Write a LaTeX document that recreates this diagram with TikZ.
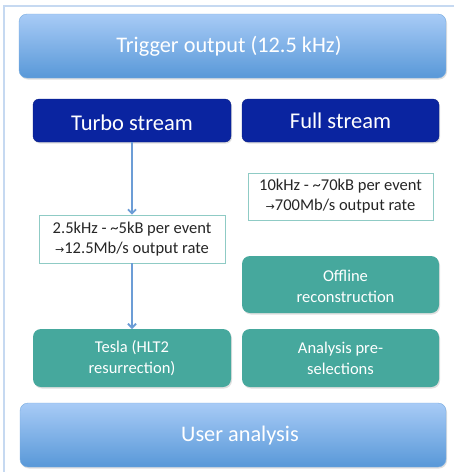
\documentclass[tikz,border=0pt]{standalone}
\usepackage{fontspec}
\setmainfont{Carlito}
\newfontfamily\symf{DejaVu Sans}
\usetikzlibrary{shadows,arrows.meta}
\definecolor{frameblue}{HTML}{C6D9F1}
\definecolor{bluetop}{HTML}{A8CBF6}
\definecolor{bluebot}{HTML}{5898D8}
\definecolor{darkblue}{HTML}{0A24A0}
\definecolor{teal}{HTML}{46A89D}
\definecolor{tealline}{HTML}{8FCBC5}
\definecolor{arrowblue}{HTML}{6C9DD6}
\tikzset{
  bigbar/.style={rounded corners=8pt, top color=bluetop, bottom color=bluebot, draw=bluebot!80!white, line width=0.4pt,
     drop shadow={opacity=0.25, shadow xshift=1pt, shadow yshift=-1.5pt}},
  darkbox/.style={rounded corners=6pt, fill=darkblue, draw=darkblue!80!black, line width=0.3pt,
     drop shadow={opacity=0.25, shadow xshift=1pt, shadow yshift=-1.5pt}},
  tealbox/.style={rounded corners=8pt, fill=teal, draw=none,
     drop shadow={opacity=0.25, shadow xshift=1pt, shadow yshift=-1.5pt}},
  infobox/.style={draw=tealline, fill=white, line width=0.8pt},
  bigtext/.style={text=white, font=\fontsize{22.3}{26}\selectfont},
  midtext/.style={text=white, font=\fontsize{22.5}{26}\selectfont},
  smalltext/.style={text=black!85, font=\fontsize{16.5}{20}\selectfont, align=center},
  tealtext/.style={text=white, font=\fontsize{16.5}{21}\selectfont, align=center},
  flow/.style={draw=arrowblue, line width=1.8pt, -{Straight Barb[length=4pt,width=8pt]}}
}
\newcommand{\smallarrow}{{\symf\fontsize{11}{12}\selectfont →}}
\begin{document}
\begin{tikzpicture}[x=1pt,y=-1pt]
\useasboundingbox (0,0) rectangle (454,472);
\fill[white] (0,0) rectangle (454,472);
\draw[frameblue, line width=1.5pt] (4,480) -- (4,6) -- (460,6);

\path[bigbar] (19,14) rectangle (446,78);
\node[bigtext] (trig) at (229,46) {Trigger output (12.5 kHz)};

\path[darkbox] (33,99) rectangle (231,142);
\node[midtext] (turbo) at (132,123) {Turbo stream};
\coordinate (turboS) at (132,142);
\path[darkbox] (242,99) rectangle (439,142);
\node[midtext] (full) at (340.5,121) {Full stream};

\node[infobox, minimum width=186pt, minimum height=48pt, inner sep=0pt] (tb) at (132,239) {};
\node[smalltext] (tbt) at (tb.center) {2.5kHz - \textasciitilde5kB per event\\\smallarrow12.5Mb/s output rate};

\node[infobox, minimum width=185pt, minimum height=47pt, inner sep=0pt] (fb) at (340.5,196.5) {};
\node[smalltext] (fbt) at (fb.center) {10kHz - \textasciitilde70kB per event\\\smallarrow700Mb/s output rate};

\path[tealbox] (242,256) rectangle (439,313);
\node[tealtext] (off) at (345.5,286) {Offline\\reconstruction};

\path[tealbox] (33,329) rectangle (231,387);
\node[tealtext] (tesla) at (132,358) {Tesla (HLT2\\resurrection)};
\coordinate (teslaN) at (132,329);
\path[tealbox] (242,329) rectangle (439,387);
\node[tealtext] (ana) at (340.5,358) {Analysis pre-\\selections};

\path[bigbar] (20,403) rectangle (446,467);
\node[bigtext] (user) at (240,436) {User analysis};

\draw[flow] (turboS) -- (tb.north);
\draw[flow] (tb.south) -- (teslaN);
\end{tikzpicture}
\end{document}
